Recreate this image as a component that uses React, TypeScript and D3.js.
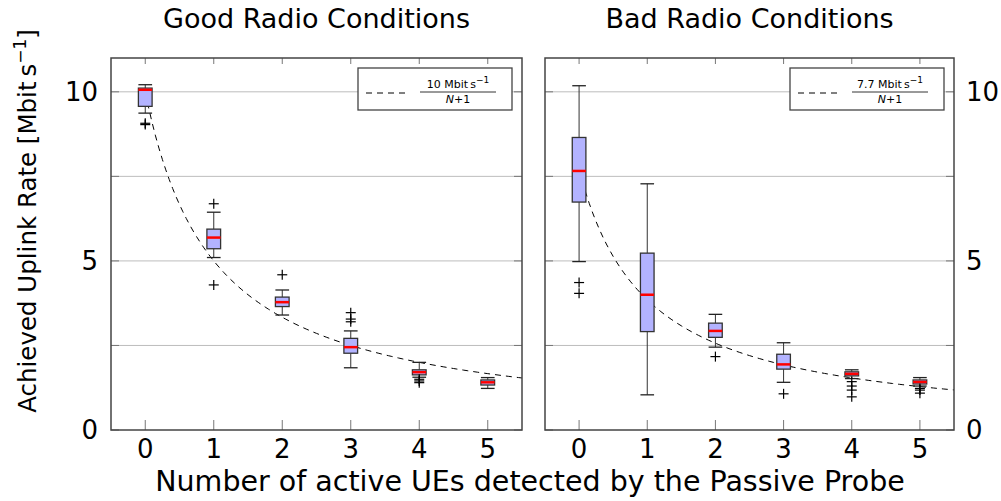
import * as d3 from "d3";

// number of active UEs (x positions of the boxes)
const counts = [0, 1, 2, 3, 4, 5];
const yTicks = [0, 2.5, 5, 7.5, 10];
const yLabels = [0, 5, 10];

// Good radio conditions, Mbit/s
const goodUpper = [10.21, 6.44, 4.14, 2.93, 2.0, 1.55];
const goodQ3 = [10.11, 5.94, 3.93, 2.71, 1.78, 1.48];
const goodMedian = [10.06, 5.69, 3.78, 2.45, 1.71, 1.41];
const goodQ1 = [9.57, 5.36, 3.65, 2.27, 1.63, 1.33];
const goodLower = [9.37, 5.1, 3.4, 1.84, 1.56, 1.23];
const goodOutliers = [[9.03, 9.07], [6.69, 4.29], [4.59], [3.47, 3.28, 3.2], [1.5, 1.45, 1.4], []];
const goodPeak = 10;

// Bad radio conditions, Mbit/s
const badUpper = [10.18, 7.28, 3.42, 2.58, 1.78, 1.55];
const badQ3 = [8.65, 5.23, 3.16, 2.24, 1.72, 1.48];
const badMedian = [7.66, 4.0, 2.93, 1.94, 1.66, 1.42];
const badQ1 = [6.74, 2.91, 2.74, 1.8, 1.6, 1.36];
const badLower = [4.98, 1.04, 2.45, 1.41, 1.52, 1.3];
const badOutliers = [[4.36, 4.04], [], [2.17], [1.07], [1.43, 1.3, 1.18, 0.98], [1.23, 1.18, 1.09]];
const badPeak = 7.7;

const font = "DejaVu Sans";
const top = 58;
const bottom = 430;
const boxW = 0.2;

type Panel = {
  title: string;
  left: number;
  right: number;
  upper: number[];
  q3: number[];
  median: number[];
  q1: number[];
  lower: number[];
  outliers: number[][];
  peak: number;
  peakLabel: string;
  labelSide: "left" | "right";
};

const panels: Panel[] = [
  {
    title: "Good Radio Conditions",
    left: 111,
    right: 522,
    upper: goodUpper,
    q3: goodQ3,
    median: goodMedian,
    q1: goodQ1,
    lower: goodLower,
    outliers: goodOutliers,
    peak: goodPeak,
    peakLabel: "10",
    labelSide: "left",
  },
  {
    title: "Bad Radio Conditions",
    left: 545,
    right: 954,
    upper: badUpper,
    q3: badQ3,
    median: badMedian,
    q1: badQ1,
    lower: badLower,
    outliers: badOutliers,
    peak: badPeak,
    peakLabel: "7.7",
    labelSide: "right",
  },
];

const y = d3.scaleLinear([0, 11], [bottom, top]);

function BoxPanel({ p }: { p: Panel }) {
  const x = d3.scaleLinear([-0.5, 5.5], [p.left, p.right]);
  const half = (x(boxW) - x(0)) / 2;
  const curve = d3
    .line<number>()
    .x((n) => x(n))
    .y((n) => y(p.peak / (n + 1)))(d3.range(0, 5.5001, 0.05));
  const lx = p.right - 164;
  const ly = top + 10;

  return (
    <g>
      <text x={(p.left + p.right) / 2} y={28} textAnchor="middle" fontSize={27} fontFamily={font}>
        {p.title}
      </text>
      {/* grid */}
      {yTicks.slice(1).map((t) => (
        <line key={t} x1={p.left} x2={p.right} y1={y(t)} y2={y(t)} stroke="#bdbdbd" strokeWidth={1} />
      ))}
      {/* ticks */}
      {yTicks.map((t) => (
        <g key={"yt" + t} stroke="#777" strokeWidth={1}>
          <line x1={p.left} x2={p.left + 8} y1={y(t)} y2={y(t)} />
          <line x1={p.right - 8} x2={p.right} y1={y(t)} y2={y(t)} />
        </g>
      ))}
      {counts.map((c) => (
        <g key={"xt" + c} stroke="#777" strokeWidth={1}>
          <line x1={x(c)} x2={x(c)} y1={bottom} y2={bottom - 10} />
          <line x1={x(c)} x2={x(c)} y1={top} y2={top + 6} />
        </g>
      ))}
      {/* reference curve */}
      <path d={curve ?? ""} fill="none" stroke="#000" strokeWidth={1} strokeDasharray="6,5" />
      {/* boxes */}
      {counts.map((c, i) => {
        const cx = x(c);
        return (
          <g key={"b" + c}>
            <line x1={cx} x2={cx} y1={y(p.upper[i])} y2={y(p.q3[i])} stroke="#333" />
            <line x1={cx} x2={cx} y1={y(p.q1[i])} y2={y(p.lower[i])} stroke="#333" />
            <line x1={cx - half} x2={cx + half} y1={y(p.upper[i])} y2={y(p.upper[i])} stroke="#222" strokeWidth={1.3} />
            <line x1={cx - half} x2={cx + half} y1={y(p.lower[i])} y2={y(p.lower[i])} stroke="#222" strokeWidth={1.3} />
            <rect
              x={cx - half}
              y={y(p.q3[i])}
              width={half * 2}
              height={y(p.q1[i]) - y(p.q3[i])}
              fill="#b3b3ff"
              stroke="#333"
              strokeWidth={1.3}
            />
            <line x1={cx - half} x2={cx + half} y1={y(p.median[i])} y2={y(p.median[i])} stroke="#ff0000" strokeWidth={2.5} />
            {p.outliers[i].map((o, j) => (
              <g key={j} stroke="#000" strokeWidth={1.2}>
                <line x1={cx - 5} x2={cx + 5} y1={y(o)} y2={y(o)} />
                <line x1={cx} x2={cx} y1={y(o) - 5} y2={y(o) + 5} />
              </g>
            ))}
          </g>
        );
      })}
      {/* frame */}
      <rect x={p.left} y={top} width={p.right - p.left} height={bottom - top} fill="none" stroke="#444" strokeWidth={1.5} />
      {/* x tick labels */}
      {counts.map((c) => (
        <text key={"xl" + c} x={x(c)} y={458} textAnchor="middle" fontSize={26} fontFamily={font}>
          {c}
        </text>
      ))}
      {/* y tick labels */}
      {yLabels.map((t) => (
        <text
          key={"yl" + t}
          x={p.labelSide === "left" ? p.left - 13 : p.right + 12}
          y={y(t)}
          dy="0.36em"
          textAnchor={p.labelSide === "left" ? "end" : "start"}
          fontSize={26}
          fontFamily={font}
        >
          {t}
        </text>
      ))}
      {/* legend */}
      <rect x={lx} y={ly} width={154} height={42} fill="#fff" stroke="#444" strokeWidth={1.3} />
      <line x1={lx + 8} x2={lx + 47} y1={ly + 25} y2={ly + 25} stroke="#000" strokeDasharray="6,5" />
      <text x={lx + 100} y={ly + 20} textAnchor="middle" fontSize={11} fontFamily={font}>
        {p.peakLabel} Mbit{"\u2009"}s
        <tspan dy={-5} fontSize={9}>
          −1
        </tspan>
      </text>
      <line x1={lx + 62} x2={lx + 138} y1={ly + 24} y2={ly + 24} stroke="#000" strokeWidth={0.8} />
      <text x={lx + 100} y={ly + 35} textAnchor="middle" fontSize={11} fontFamily={font}>
        <tspan fontStyle="italic">N</tspan>+1
      </text>
    </g>
  );
}

export default function App() {
  return (
    <svg width={1001} height={501} style={{ position: "absolute", left: 0, top: 0, background: "#fff" }}>
      {panels.map((p) => (
        <BoxPanel key={p.title} p={p} />
      ))}
      <text x={530} y={491} textAnchor="middle" fontSize={28.5} fontFamily={font}>
        Number of active UEs detected by the Passive Probe
      </text>
      <text transform="translate(36,221) rotate(-90)" textAnchor="middle" fontSize={24.5} fontFamily={font}>
        Achieved Uplink Rate [Mbit{"\u2009"}s
        <tspan dy={-10} fontSize={17}>
          −1
        </tspan>
        <tspan dy={10}>]</tspan>
      </text>
    </svg>
  );
}
